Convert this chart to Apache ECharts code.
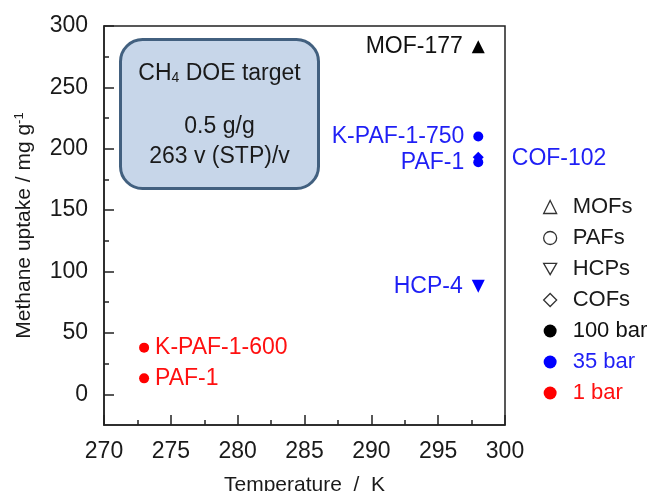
<!DOCTYPE html>
<html>
<head>
<meta charset="utf-8">
<script src="https://cdn.jsdelivr.net/npm/echarts@6/dist/echarts.min.js"></script>
<style>
html,body{margin:0;padding:0;background:#fff;}
#chart{width:654px;height:491px;}
</style>
</head>
<body>
<div id="chart"></div>
<script>
// ---- data ----
const pointNames    = ['MOF-177', 'K-PAF-1-750', 'PAF-1', 'COF-102', 'HCP-4', 'K-PAF-1-600', 'PAF-1'];
const pointTemps    = [298, 298, 298, 298, 298, 273, 273];
const pointUptake   = [283, 210, 189, 193, 88, 38, 13];
const pointClass    = ['MOFs', 'PAFs', 'PAFs', 'COFs', 'HCPs', 'PAFs', 'PAFs'];
const pointPressure = ['100 bar', '35 bar', '35 bar', '35 bar', '35 bar', '1 bar', '1 bar'];
const classNames    = ['MOFs', 'PAFs', 'HCPs', 'COFs'];
const pressureNames = ['100 bar', '35 bar', '1 bar'];
const xMajorTicks = [270, 275, 280, 285, 290, 295, 300];
const xMinorTicks = [272.5, 277.5, 282.5, 287.5, 292.5, 297.5];
const yMajorTicks = [0, 50, 100, 150, 200, 250, 300];
const yMinorTicks = [25, 75, 125, 175, 225, 275];

// ---- styles ----
const FONT = "'Liberation Sans', Arial, sans-serif";
const INK = '#1a1a1a';
const markerColor = {'100 bar': '#000000', '35 bar': '#0000ff', '1 bar': '#ff0000'};
const textColor = {'100 bar': '#111111', '35 bar': '#1f1ff5', '1 bar': '#ff1010'};
const classSymbol = {MOFs: 'triangle', PAFs: 'circle', HCPs: 'triangle', COFs: 'diamond'};
const classRotate = {MOFs: 0, PAFs: 0, HCPs: 180, COFs: 0};
const classSize = {MOFs: 13, PAFs: 10, HCPs: 13, COFs: 11};
const legendIcon = {MOFs: 'triangle', PAFs: 'circle', HCPs: 'path://M0,0L10,0L5,8.66Z', COFs: 'diamond'};

const pointData = pointNames.map((n, i) => {
  const cls = pointClass[i], pr = pointPressure[i];
  let pos = 'left', dist = 9;
  if (pr === '1 bar') { pos = 'right'; dist = 6; }
  if (cls === 'COFs') { pos = 'right'; dist = 28; }
  return {
    name: n,
    value: [pointTemps[i], pointUptake[i]],
    symbol: classSymbol[cls],
    symbolRotate: classRotate[cls],
    symbolSize: classSize[cls],
    itemStyle: {color: markerColor[pr], opacity: 1},
    label: {show: true, position: pos, distance: dist, formatter: '{b}',
            color: textColor[pr], fontSize: 23, fontFamily: FONT, opacity: 1,
            offset: cls === 'COFs' ? [0, 1] : [0, 0]}
  };
});

const legendData = classNames.map(c => ({
  name: c, icon: legendIcon[c],
  itemStyle: {color: '#ffffff', borderColor: '#333333', borderWidth: 1.3, opacity: 1},
  textStyle: {color: INK}
})).concat(pressureNames.map(p => ({
  name: p, icon: 'circle',
  itemStyle: {color: markerColor[p], borderWidth: 0, opacity: 1},
  textStyle: {color: textColor[p]}
})));

const dummySeries = classNames.concat(pressureNames).map(n => ({
  name: n, type: 'scatter', data: [], xAxisIndex: 0, yAxisIndex: 0,
  itemStyle: {opacity: 1}
}));

const axisLineStyle = {color: '#222222', width: 1.5};

const chart = echarts.init(document.getElementById('chart'));
chart.setOption({
  animation: false,
  backgroundColor: '#ffffff',
  textStyle: {fontFamily: FONT},
  grid: {left: 104, right: 149, top: 26, bottom: 66, show: true, containLabel: false,
         outerBoundsMode: 'none',
         borderColor: '#222222', borderWidth: 1.5, backgroundColor: 'transparent'},
  legend: {
    orient: 'vertical', left: 538, top: 191,
    itemWidth: 13, itemHeight: 13, itemGap: 9,
    selectedMode: false,
    textStyle: {fontSize: 22, fontFamily: FONT, padding: [0, 0, 0, 11]},
    data: legendData
  },
  xAxis: [{
    type: 'value', min: 270, max: 300,
    name: 'Temperature  /  K', nameLocation: 'middle', nameGap: 50,
    nameTextStyle: {fontSize: 21, color: INK, fontFamily: FONT},
    axisLine: {show: true, onZero: false, lineStyle: axisLineStyle},
    axisTick: {show: true, inside: true, length: 10, customValues: xMajorTicks, lineStyle: axisLineStyle},
    axisLabel: {customValues: xMajorTicks, fontSize: 23, color: INK, margin: 15, fontFamily: FONT},
    splitLine: {show: false}
  }, {
    type: 'value', min: 270, max: 300, position: 'bottom', offset: 0,
    axisLine: {show: false, onZero: false},
    axisTick: {show: true, inside: true, length: 5, customValues: xMinorTicks, lineStyle: axisLineStyle},
    axisLabel: {show: false}, splitLine: {show: false}
  }],
  yAxis: [{
    type: 'value', min: -25, max: 300,
    name: 'Methane uptake / mg g{sup|-1}', nameLocation: 'middle', nameGap: 68, nameRotate: 90,
    nameTextStyle: {fontSize: 21, color: INK, fontFamily: FONT,
      rich: {sup: {fontSize: 13, color: INK, verticalAlign: 'top', padding: [0, 0, 10, 0], fontFamily: FONT}}},
    axisLine: {show: true, onZero: false, lineStyle: axisLineStyle},
    axisTick: {show: true, inside: true, length: 10, customValues: yMajorTicks, lineStyle: axisLineStyle},
    axisLabel: {customValues: yMajorTicks, fontSize: 23, color: INK, margin: 16, fontFamily: FONT},
    splitLine: {show: false}
  }, {
    type: 'value', min: -25, max: 300, position: 'left', offset: 0,
    axisLine: {show: false, onZero: false},
    axisTick: {show: true, inside: true, length: 5, customValues: yMinorTicks, lineStyle: axisLineStyle},
    axisLabel: {show: false}, splitLine: {show: false}
  }],
  graphic: [{
    type: 'group', left: 119, top: 38, z: 10,
    children: [{
      type: 'rect', shape: {x: 0, y: 0, width: 198, height: 149, r: 22},
      style: {fill: '#c7d6e9', stroke: '#42607f', lineWidth: 3}
    }, {
      type: 'text', x: 99, y: 34,
      style: {text: 'CH{sub|4} DOE target', align: 'center', verticalAlign: 'middle',
        fontSize: 23, fontFamily: FONT, fill: INK,
        rich: {sub: {fontSize: 14, fontFamily: FONT, fill: INK, verticalAlign: 'bottom', padding: [8, 0, 0, 0]}}}
    }, {
      type: 'text', x: 99, y: 87,
      style: {text: '0.5 g/g', align: 'center', verticalAlign: 'middle',
        fontSize: 23, fontFamily: FONT, fill: INK}
    }, {
      type: 'text', x: 99, y: 117,
      style: {text: '263 v (STP)/v', align: 'center', verticalAlign: 'middle',
        fontSize: 23, fontFamily: FONT, fill: INK}
    }]
  }],
  series: [{
    name: 'points', type: 'scatter', xAxisIndex: 0, yAxisIndex: 0, z: 5,
    data: pointData
  }].concat(dummySeries)
});
</script>
</body>
</html>
